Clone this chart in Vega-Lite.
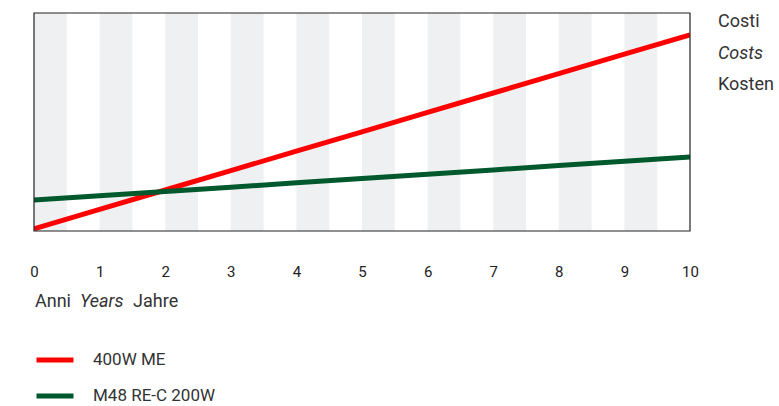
{
  "$schema": "https://vega.github.io/schema/vega-lite/v6.json",
  "width": 656,
  "height": 218,
  "autosize": {"type": "none"},
  "padding": {"left": 34, "top": 13, "right": 89, "bottom": 175},
  "background": "white",
  "config": {
    "font": "Roboto",
    "view": {"stroke": null},
    "text": {"font": "Roboto", "fontSize": 18, "color": "#333333"}
  },
  "datasets": {
    "stripes": [
      {"start": 0, "end": 0.5}, {"start": 1, "end": 1.5}, {"start": 2, "end": 2.5},
      {"start": 3, "end": 3.5}, {"start": 4, "end": 4.5}, {"start": 5, "end": 5.5},
      {"start": 6, "end": 6.5}, {"start": 7, "end": 7.5}, {"start": 8, "end": 8.5},
      {"start": 9, "end": 9.5}
    ],
    "costs": [
      {"year": 0, "cost": 1.0, "model": "400W ME"},
      {"year": 1, "cost": 9.9, "model": "400W ME"},
      {"year": 2, "cost": 18.8, "model": "400W ME"},
      {"year": 3, "cost": 27.7, "model": "400W ME"},
      {"year": 4, "cost": 36.6, "model": "400W ME"},
      {"year": 5, "cost": 45.5, "model": "400W ME"},
      {"year": 6, "cost": 54.4, "model": "400W ME"},
      {"year": 7, "cost": 63.3, "model": "400W ME"},
      {"year": 8, "cost": 72.2, "model": "400W ME"},
      {"year": 9, "cost": 81.1, "model": "400W ME"},
      {"year": 10, "cost": 90.0, "model": "400W ME"},
      {"year": 0, "cost": 14.2, "model": "M48 RE-C 200W"},
      {"year": 1, "cost": 16.2, "model": "M48 RE-C 200W"},
      {"year": 2, "cost": 18.1, "model": "M48 RE-C 200W"},
      {"year": 3, "cost": 20.1, "model": "M48 RE-C 200W"},
      {"year": 4, "cost": 22.1, "model": "M48 RE-C 200W"},
      {"year": 5, "cost": 24.1, "model": "M48 RE-C 200W"},
      {"year": 6, "cost": 26.0, "model": "M48 RE-C 200W"},
      {"year": 7, "cost": 28.0, "model": "M48 RE-C 200W"},
      {"year": 8, "cost": 30.0, "model": "M48 RE-C 200W"},
      {"year": 9, "cost": 32.0, "model": "M48 RE-C 200W"},
      {"year": 10, "cost": 33.9, "model": "M48 RE-C 200W"}
    ],
    "one": [{}]
  },
  "layer": [
    {
      "data": {"name": "stripes"},
      "mark": {"type": "rect", "color": "#eff0f2"},
      "encoding": {
        "x": {"field": "start", "type": "quantitative",
              "scale": {"domain": [0, 10], "nice": false, "zero": false},
              "axis": {"values": [0,1,2,3,4,5,6,7,8,9,10], "format": "d", "title": null, "grid": false, "domain": false, "ticks": false,
                       "labelPadding": 33, "labelFontSize": 15, "labelColor": "#222222", "labelFlush": false, "labelFont": "Roboto"}},
        "x2": {"field": "end"},
        "y": {"datum": 0, "type": "quantitative", "scale": {"domain": [0, 100], "nice": false}, "axis": null},
        "y2": {"datum": 100}
      }
    },
    {
      "data": {"name": "costs"},
      "mark": {"type": "line", "strokeWidth": 5, "clip": true},
      "encoding": {
        "x": {"field": "year", "type": "quantitative"},
        "y": {"field": "cost", "type": "quantitative"},
        "color": {"field": "model", "type": "nominal",
                  "scale": {"domain": ["400W ME", "M48 RE-C 200W"], "range": ["#ff0000", "#00592c"]},
                  "legend": {"title": null, "orient": "none", "legendX": 0, "legendY": 326, "direction": "vertical", "padding": 0,
                             "symbolType": "stroke", "symbolSize": 1369, "symbolStrokeWidth": 5,
                             "labelFontSize": 17, "labelColor": "#333333", "labelOffset": 17, "rowPadding": 5, "labelFont": "Roboto"}}
      }
    },
    {
      "data": {"name": "one"},
      "mark": {"type": "rect", "fill": null, "filled": false, "stroke": "#222222", "strokeWidth": 1.2},
      "encoding": {"x": {"datum": 0}, "x2": {"datum": 10}, "y": {"datum": 0}, "y2": {"datum": 100}}
    },
    {
      "data": {"name": "one"},
      "mark": {"type": "text", "align": "left", "baseline": "middle", "dx": 28},
      "encoding": {"x": {"datum": 10}, "y": {"datum": 96.1}, "text": {"value": "Costi"}}
    },
    {
      "data": {"name": "one"},
      "mark": {"type": "text", "align": "left", "baseline": "middle", "dx": 28, "fontStyle": "italic"},
      "encoding": {"x": {"datum": 10}, "y": {"datum": 81.4}, "text": {"value": "Costs"}}
    },
    {
      "data": {"name": "one"},
      "mark": {"type": "text", "align": "left", "baseline": "middle", "dx": 28},
      "encoding": {"x": {"datum": 10}, "y": {"datum": 67.0}, "text": {"value": "Kosten"}}
    },
    {
      "data": {"name": "one"},
      "mark": {"type": "text", "align": "left", "baseline": "middle", "dx": 1},
      "encoding": {"x": {"datum": 0}, "y": {"datum": -32.6}, "text": {"value": "Anni"}}
    },
    {
      "data": {"name": "one"},
      "mark": {"type": "text", "align": "left", "baseline": "middle", "fontStyle": "italic"},
      "encoding": {"x": {"datum": 0.7}, "y": {"datum": -32.6}, "text": {"value": "Years"}}
    },
    {
      "data": {"name": "one"},
      "mark": {"type": "text", "align": "left", "baseline": "middle"},
      "encoding": {"x": {"datum": 1.51}, "y": {"datum": -32.6}, "text": {"value": "Jahre"}}
    }
  ]
}
